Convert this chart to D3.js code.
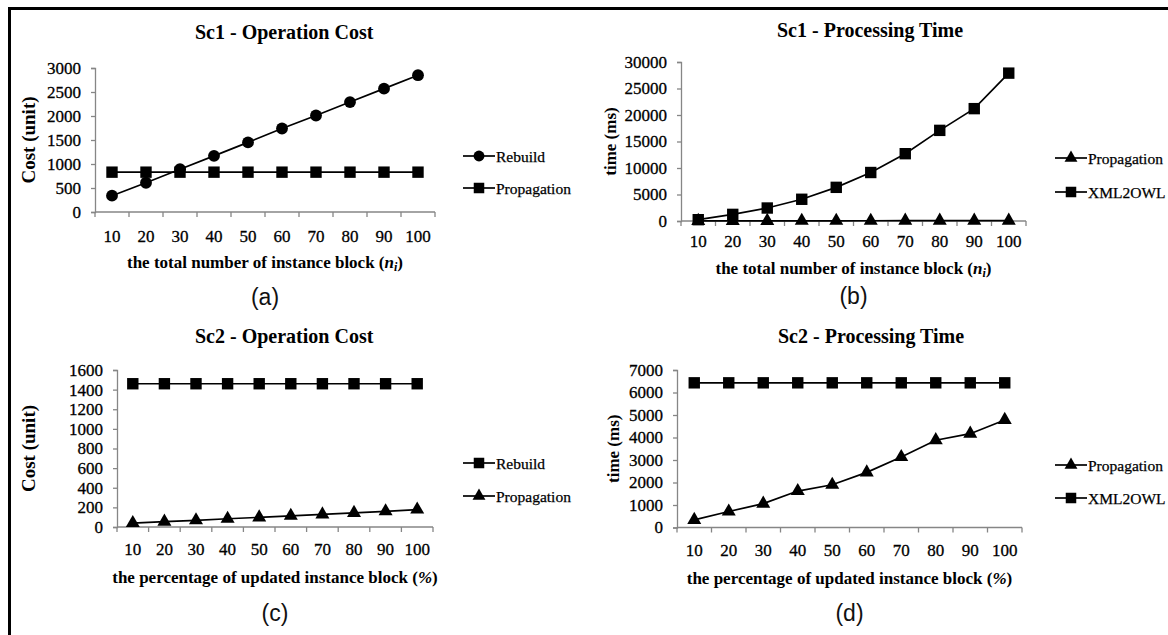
<!DOCTYPE html>
<html>
<head>
<meta charset="utf-8">
<script src="https://cdn.jsdelivr.net/npm/d3@7"></script>
<style>
  body { margin: 0; background: #fff; }
  svg { display: block; }
</style>
</head>
<body>
<div class="canvas"></div>
<script>
// ---- data ----
const categories = [10, 20, 30, 40, 50, 60, 70, 80, 90, 100];

const sc1CostRebuild     = [340, 610, 890, 1170, 1450, 1740, 2010, 2290, 2570, 2850];
const sc1CostPropagation = [830, 830, 830, 830, 830, 830, 830, 830, 830, 830];
const sc1TimePropagation = [12, 18, 25, 33, 41, 47, 55, 62, 70, 78];
const sc1TimeXml2owl     = [250, 1250, 2450, 4100, 6350, 9150, 12700, 17100, 21200, 27900];

const sc2CostRebuild     = [1460, 1460, 1460, 1460, 1460, 1460, 1460, 1460, 1460, 1460];
const sc2CostPropagation = [40, 54, 68, 84, 98, 114, 128, 144, 160, 178];
const sc2TimePropagation = [340, 710, 1060, 1620, 1900, 2450, 3130, 3880, 4170, 4780];
const sc2TimeXml2owl     = [6430, 6430, 6430, 6430, 6430, 6430, 6430, 6430, 6430, 6430];

const sc1CostTicks = [0, 500, 1000, 1500, 2000, 2500, 3000];
const sc1TimeTicks = [0, 5000, 10000, 15000, 20000, 25000, 30000];
const sc2CostTicks = [0, 200, 400, 600, 800, 1000, 1200, 1400, 1600];
const sc2TimeTicks = [0, 1000, 2000, 3000, 4000, 5000, 6000, 7000];

const xTitleCount = "the total number of instance block (";
const xTitlePct = "the percentage of updated instance block (";

const serif = "'Liberation Serif', 'Times New Roman', serif";
const axisColor = "#868686";

let svg = d3.select(".canvas").append("svg").attr("width", 1168).attr("height", 635);

// outer frame (top + left only visible)
svg.append("path")
  .attr("d", "M9.5,635 V8.5 H1168")
  .attr("fill", "none").attr("stroke", "#000").attr("stroke-width", 3);

const symbols = { circle: d3.symbolCircle, square: d3.symbolSquare, triangle: d3.symbolTriangle };
const symSize = { circle: 110, square: 130, triangle: 85 };

const panels = [
  { title: "Sc1 - Operation Cost", titleX: 195, titleY: 39,
    left: 95, right: 435, top: 68, bottom: 212, ticks: sc1CostTicks,
    yLabel: "Cost (unit)", yLabelX: 28, yLabelSize: 19,
    xTitle: xTitleCount, italicN: true, xLabelY: 236, xTitleY: 262, tag: "(a)", tagY: 297,
    legendX: 463, legendY: [156, 188],
    series: [ { name: "Rebuild", values: sc1CostRebuild, marker: "circle" },
              { name: "Propagation", values: sc1CostPropagation, marker: "square" } ] },
  { title: "Sc1 - Processing Time", titleX: 777, titleY: 37,
    left: 681, right: 1026, top: 62, bottom: 221, ticks: sc1TimeTicks,
    yLabel: "time (ms)", yLabelX: 610, yLabelSize: 17,
    xTitle: xTitleCount, italicN: true, xLabelY: 241, xTitleY: 268, tag: "(b)", tagY: 296,
    legendX: 1055, legendY: [158, 192],
    series: [ { name: "Propagation", values: sc1TimePropagation, marker: "triangle" },
              { name: "XML2OWL", values: sc1TimeXml2owl, marker: "square" } ] },
  { title: "Sc2 - Operation Cost", titleX: 195, titleY: 343,
    left: 117, right: 433, top: 370, bottom: 527, ticks: sc2CostTicks,
    yLabel: "Cost (unit)", yLabelX: 28, yLabelSize: 19,
    xTitle: xTitlePct, italicN: false, xLabelY: 549, xTitleY: 577, tag: "(c)", tagY: 613,
    legendX: 463, legendY: [463, 496],
    series: [ { name: "Rebuild", values: sc2CostRebuild, marker: "square" },
              { name: "Propagation", values: sc2CostPropagation, marker: "triangle" } ] },
  { title: "Sc2 - Processing Time", titleX: 778, titleY: 343,
    left: 677, right: 1022, top: 370, bottom: 527.5, ticks: sc2TimeTicks,
    yLabel: "time (ms)", yLabelX: 613, yLabelSize: 17,
    xTitle: xTitlePct, italicN: false, xLabelY: 550, xTitleY: 578, tag: "(d)", tagY: 613,
    legendX: 1055, legendY: [465, 498],
    series: [ { name: "Propagation", values: sc2TimePropagation, marker: "triangle" },
              { name: "XML2OWL", values: sc2TimeXml2owl, marker: "square" } ] }
];

const drawPanel = (p) => {
  const g = svg.append("g");
  const x = d3.scaleBand().domain(categories).range([p.left, p.right]);
  const y = d3.scaleLinear().domain([0, d3.max(p.ticks)]).range([p.bottom, p.top]);

  // title
  g.append("text").attr("x", p.titleX).attr("y", p.titleY)
    .attr("font-family", serif)
    .attr("font-weight", "bold").attr("font-size", 20).attr("fill", "#000")
    .text(p.title);

  // y axis
  const yAxis = g.append("g").attr("transform", `translate(${p.left},0)`)
    .call(d3.axisLeft(y).tickValues(p.ticks).tickSize(4).tickPadding(10).tickFormat(d3.format("d")));
  yAxis.select(".domain").attr("stroke", axisColor).attr("stroke-width", 1.3);
  yAxis.selectAll(".tick line").attr("stroke", axisColor).attr("stroke-width", 1.3);
  yAxis.selectAll(".tick text").attr("font-family", serif).attr("font-size", 17)
    .attr("fill", "#000").attr("stroke", "#000").attr("stroke-width", 0.3);

  // x axis: ticks on band edges, labels at band centres
  const edges = categories.map(c => x(c)).concat([p.right]);
  g.append("line").attr("x1", p.left).attr("x2", p.right).attr("y1", p.bottom).attr("y2", p.bottom)
    .attr("stroke", axisColor).attr("stroke-width", 1.3);
  g.selectAll(".xtick").data(edges).join("line")
    .attr("x1", d => d).attr("x2", d => d).attr("y1", p.bottom).attr("y2", p.bottom + 5)
    .attr("stroke", axisColor).attr("stroke-width", 1.3);
  g.selectAll(".xlab").data(categories).join("text")
    .attr("x", d => x(d) + x.bandwidth() / 2).attr("y", p.xLabelY)
    .attr("text-anchor", "middle").attr("dominant-baseline", "central")
    .attr("font-family", serif).attr("font-size", 17)
    .attr("fill", "#000").attr("stroke", "#000").attr("stroke-width", 0.3)
    .text(d => d);

  // axis titles
  g.append("text")
    .attr("transform", `translate(${p.yLabelX},${(p.top + p.bottom) / 2}) rotate(-90)`)
    .attr("text-anchor", "middle").attr("dominant-baseline", "central")
    .attr("font-family", serif).attr("font-weight", "bold").attr("font-size", p.yLabelSize).attr("fill", "#000")
    .text(p.yLabel);

  const xt = g.append("text").attr("x", (p.left + p.right) / 2).attr("y", p.xTitleY)
    .attr("text-anchor", "middle").attr("dominant-baseline", "central")
    .attr("font-family", serif).attr("font-weight", "bold").attr("font-size", 17).attr("fill", "#000");
  xt.append("tspan").text(p.xTitle);
  if (p.italicN) {
    xt.append("tspan").attr("font-style", "italic").text("n");
    xt.append("tspan").attr("font-style", "italic").attr("font-size", 12).attr("dy", 5).text("i");
    xt.append("tspan").attr("dy", -5).text(")");
  } else {
    xt.append("tspan").attr("font-style", "italic").text("%");
    xt.append("tspan").text(")");
  }

  g.append("text").attr("x", (p.left + p.right) / 2).attr("y", p.tagY)
    .attr("text-anchor", "middle").attr("dominant-baseline", "central")
    .attr("font-family", "'Liberation Sans', Arial, sans-serif").attr("font-size", 23).attr("fill", "#111")
    .text(p.tag);

  // series
  const line = d3.line().x((d, i) => x(categories[i]) + x.bandwidth() / 2).y(d => y(d));
  p.series.forEach((s, si) => {
    g.append("path").datum(s.values).attr("d", line)
      .attr("fill", "none").attr("stroke", "#000").attr("stroke-width", 1.7);
    g.selectAll(".m" + si).data(s.values).join("path")
      .attr("transform", (d, i) => `translate(${x(categories[i]) + x.bandwidth() / 2},${y(d)})`)
      .attr("d", d3.symbol().type(symbols[s.marker]).size(symSize[s.marker]))
      .attr("fill", "#000");

    // legend entry
    const ly = p.legendY[si];
    g.append("line").attr("x1", p.legendX).attr("x2", p.legendX + 32).attr("y1", ly).attr("y2", ly)
      .attr("stroke", "#000").attr("stroke-width", 1.7);
    g.append("path").attr("transform", `translate(${p.legendX + 16},${ly})`)
      .attr("d", d3.symbol().type(symbols[s.marker]).size(symSize[s.marker] * 0.85))
      .attr("fill", "#000");
    g.append("text").attr("x", p.legendX + 33).attr("y", ly)
      .attr("dominant-baseline", "central")
      .attr("font-family", serif).attr("font-size", 15.5)
      .attr("fill", "#000").attr("stroke", "#000").attr("stroke-width", 0.25)
      .text(s.name);
  });
};

panels.forEach(drawPanel);
</script>
</body>
</html>
